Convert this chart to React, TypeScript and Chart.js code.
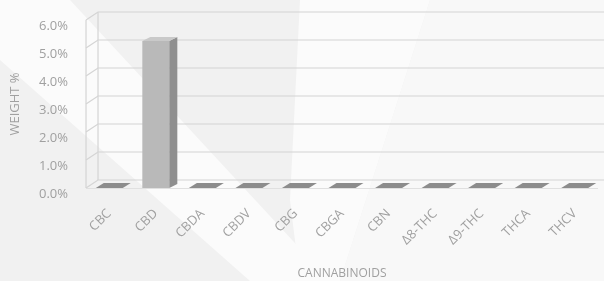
import React, { useEffect, useRef } from "react";
import { Chart, registerables } from "chart.js";

Chart.register(...registerables);

const categories = ["CBC", "CBD", "CBDA", "CBDV", "CBG", "CBGA", "CBN", "Δ8-THC", "Δ9-THC", "THCA", "THCV"];
const weightValues = [0, 5.25, 0, 0, 0, 0, 0, 0, 0, 0, 0];
const yTickValues = [0, 1, 2, 3, 4, 5, 6];

const WALL_DX = 12;
const WALL_DY = 8;
const BAR_DX = 8;
const BAR_DY = 4;

const threeD = {
  id: "threeD",
  beforeDatasetsDraw(chart: any) {
    const { ctx, chartArea, scales } = chart;
    const y = scales.y;
    const { left, right, bottom } = chartArea;
    ctx.save();
    ctx.strokeStyle = "#d4d4d4";
    ctx.lineWidth = 1.2;
    for (const v of yTickValues) {
      const py = y.getPixelForValue(v);
      ctx.beginPath();
      ctx.moveTo(left, py);
      ctx.lineTo(left + WALL_DX, py - WALL_DY);
      ctx.lineTo(right + WALL_DX, py - WALL_DY);
      ctx.stroke();
    }
    const top = y.getPixelForValue(6);
    ctx.beginPath();
    ctx.moveTo(left, top);
    ctx.lineTo(left, bottom);
    ctx.moveTo(left + WALL_DX, top - WALL_DY);
    ctx.lineTo(left + WALL_DX, bottom - WALL_DY);
    ctx.stroke();
    ctx.strokeStyle = "#e0e0e0";
    ctx.beginPath();
    ctx.moveTo(left, bottom + 0.5);
    ctx.lineTo(right, bottom + 0.5);
    ctx.stroke();
    ctx.restore();
  },
  afterDatasetsDraw(chart: any) {
    const { ctx } = chart;
    const meta = chart.getDatasetMeta(0);
    ctx.save();
    meta.data.forEach((bar: any, i: number) => {
      const { x, y, base, width } = bar.getProps(["x", "y", "base", "width"], true);
      const l = x - width / 2;
      const r = x + width / 2;
      const isZero = weightValues[i] === 0;
      if (!isZero) {
        ctx.fillStyle = "#8f8f8f";
        ctx.beginPath();
        ctx.moveTo(r, y);
        ctx.lineTo(r + BAR_DX, y - BAR_DY);
        ctx.lineTo(r + BAR_DX, base - BAR_DY);
        ctx.lineTo(r, base);
        ctx.closePath();
        ctx.fill();
      }
      ctx.fillStyle = isZero ? "#8c8c8c" : "#c9c9c9";
      const dy = isZero ? 5 : BAR_DY;
      ctx.beginPath();
      ctx.moveTo(l, y);
      ctx.lineTo(l + BAR_DX, y - dy);
      ctx.lineTo(r + BAR_DX, y - dy);
      ctx.lineTo(r, y);
      ctx.closePath();
      ctx.fill();
    });
    ctx.restore();
  },
};

export default function App() {
  const ref = useRef<HTMLCanvasElement>(null);
  useEffect(() => {
    if (!ref.current) return;
    const chart = new Chart(ref.current, {
      type: "bar",
      data: {
        labels: categories,
        datasets: [
          {
            label: "Weight %",
            data: weightValues,
            backgroundColor: "#b9b9b9",
            borderWidth: 0,
            barPercentage: 0.58,
            categoryPercentage: 1,
          },
        ],
      },
      options: {
        animation: false,
        responsive: false,
        maintainAspectRatio: false,
        layout: { padding: { top: 20, right: 5, left: 0, bottom: 0 } },
        plugins: { legend: { display: false }, tooltip: { enabled: false } },
        scales: {
          x: {
            grid: { display: false, drawTicks: false },
            border: { display: false },
            ticks: {
              color: "#a0a0a0",
              font: { family: "Open Sans", size: 13 },
              minRotation: 45,
              maxRotation: 45,
              padding: 18,
              autoSkip: false,
            },
            title: {
              display: true,
              text: "CANNABINOIDS",
              color: "#a0a0a0",
              font: { family: "Open Sans", size: 12 },
              padding: { top: 0, bottom: 0 },
            },
            afterFit(scale: any) {
              scale.height = 93;
            },
          },
          y: {
            min: 0,
            max: 6,
            grid: { display: false, drawTicks: false },
            border: { display: false },
            afterBuildTicks(scale: any) {
              scale.ticks = yTickValues.map((v) => ({ value: v }));
            },
            ticks: {
              color: "#a0a0a0",
              font: { family: "Open Sans", size: 13 },
              padding: 18,
              labelOffset: 6,
              callback: (v: any) => Number(v).toFixed(1) + "%",
            },
            title: {
              display: true,
              text: "WEIGHT %",
              color: "#a0a0a0",
              font: { family: "Open Sans", size: 13 },
              padding: { top: 7, bottom: 0 },
            },
            afterFit(scale: any) {
              scale.width = 86;
              scale.paddingTop = 8;
              scale.paddingBottom = 8;
            },
          },
        },
      },
      plugins: [threeD],
    });
    return () => chart.destroy();
  }, []);

  return (
    <div style={{ position: "fixed", left: 0, top: 0, width: 604, height: 281, overflow: "hidden", background: "#f1f1f1" }}>
      <div style={{ position: "absolute", inset: 0, background: "#fbfbfb", clipPath: "polygon(0 0, 70px 0, 330px 281px, 250px 281px, 0 60px)" }} />
      <div style={{ position: "absolute", inset: 0, background: "#fbfbfb", clipPath: "polygon(300px 0, 430px 0, 340px 281px, 300px 281px, 290px 200px)" }} />
      <div style={{ position: "absolute", inset: 0, background: "#f8f8f8", clipPath: "polygon(430px 0, 604px 0, 604px 281px, 340px 281px)" }} />
      <canvas ref={ref} width={604} height={281} style={{ position: "absolute", left: 0, top: 0, width: 604, height: 281 }} />
    </div>
  );
}
